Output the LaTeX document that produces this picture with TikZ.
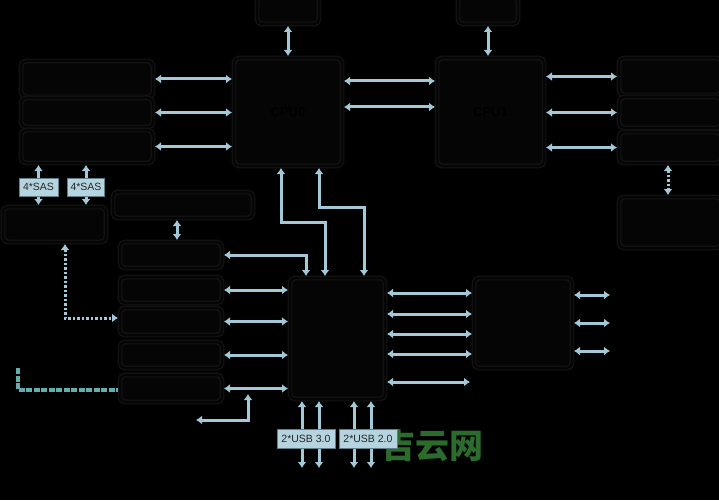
\documentclass[tikz,border=0pt]{standalone}
\usepackage{fontspec}
\setmainfont{Liberation Sans}
\newfontfamily\cjkfont{Noto Sans CJK SC}
\usetikzlibrary{arrows.meta,calc}
\definecolor{arrowblue}{HTML}{A3C8D8}
\definecolor{lblfill}{HTML}{B6D4DF}
\definecolor{lbldraw}{HTML}{5E7F8A}
\definecolor{boxline}{HTML}{141414}
\definecolor{boxfill}{HTML}{050505}
\definecolor{tealline}{HTML}{62AEAE}
\definecolor{wmgreen}{HTML}{2B6B2B}
\begin{document}
\begin{tikzpicture}[x=1pt,y=-1pt,
  blk/.style={draw=boxline, double=boxfill, fill=boxfill, line width=1.2pt, double distance=2.5pt,
    rounded corners=5pt, inner sep=0pt, outer sep=0pt, text=black, font=\bfseries\fontsize{13}{15}\selectfont},
  sz/.style 2 args={minimum width=#1pt, minimum height=#2pt},
  lbl/.style={draw=lbldraw, fill=lblfill, line width=0.8pt, inner sep=0pt, outer sep=0pt,
    text=black!85, font=\fontsize{10.5}{12}\selectfont},
  arr/.style={draw=arrowblue, line width=3pt,
    {Latex[length=6pt,width=9pt]}-{Latex[length=6pt,width=9pt]}, shorten <=2pt, shorten >=2pt},
  dotarr/.style={arr, dash pattern=on 2.5pt off 2pt},
  tealstyle/.style={draw=tealline, line width=4pt, dash pattern=on 6pt off 1.5pt, shorten >=2pt}]
\fill[black] (0,0) rectangle (719,500);
\useasboundingbox (0,0) rectangle (719,500);

% watermark
\node[font=\cjkfont\bfseries\fontsize{34}{36}\selectfont, text=wmgreen, inner sep=0pt] (wm) at (432,446) {吉云网};

% blocks
\node[blk,sz={62}{28}] (topL) at (288,10) {};
\node[blk,sz={60}{28}] (topR) at (488,10) {};
\node[blk,sz={108}{108}] (cpu0) at (288,112) {CPU0};
\node[blk,sz={107}{108}] (cpu1) at (490.5,112) {CPU1};
\node[blk,sz={132}{36}] (lb1) at (87,79) {};
\node[blk,sz={132}{29}] (lb2) at (87,112.5) {};
\node[blk,sz={132}{33}] (lb3) at (87,146.5) {};
\node[blk,sz={103}{37}] (rb1) at (670.5,76.5) {};
\node[blk,sz={103}{31}] (rb2) at (670.5,112.5) {};
\node[blk,sz={103}{31}] (rb3) at (670.5,147.5) {};
\node[blk,sz={103}{51}] (rb4) at (670.5,222.5) {};
\node[blk,sz={103}{35}] (sasbox) at (54.5,224.5) {};
\node[blk,sz={140}{26}] (midbox) at (183,205) {};
\node[blk,sz={102}{26}] (p1) at (171,255) {};
\node[blk,sz={102}{26}] (p2) at (171,290) {};
\node[blk,sz={102}{27}] (p3) at (171,321.5) {};
\node[blk,sz={102}{26}] (p4) at (171,355) {};
\node[blk,sz={102}{27}] (p5) at (171,388.5) {};
\node[blk,sz={95}{121}] (pch) at (337.5,338.5) {};
\node[blk,sz={98}{90}] (bmc) at (523,323) {};

% free-end coordinates
\coordinate (r1) at ([yshift=45.5pt]pch.east);
\coordinate (r2) at ([yshift=24.5pt]pch.east);
\coordinate (r3) at ([yshift=4.5pt]pch.east);
\coordinate (r4) at ([yshift=-15.5pt]pch.east);
\coordinate (r5) at ([yshift=-43.5pt]pch.east);
\coordinate (r5end) at (472,382);
\coordinate (m1) at ([yshift=28pt]bmc.east);
\coordinate (m2) at (bmc.east);
\coordinate (m3) at ([yshift=-28pt]bmc.east);
\coordinate (m1end) at (612,295);
\coordinate (m2end) at (612,323);
\coordinate (m3end) at (612,351);
\coordinate (bl1) at (248,392);
\coordinate (bl2) at (194,420);
\coordinate (tl) at (18,368);

% connectors
\draw[arr] (topL.south) -- (cpu0.north);
\draw[arr] (topR.south) -- (topR.south |- cpu1.north);
\draw[arr] ([yshift=31pt]cpu0.east) -- ([yshift=31pt]cpu1.west);
\draw[arr] ([yshift=5pt]cpu0.east) -- ([yshift=5pt]cpu1.west);
\draw[arr] (lb1.east) -- (lb1.east -| cpu0.west);
\draw[arr] (lb2.east) -- (lb2.east -| cpu0.west);
\draw[arr] (lb3.east) -- (lb3.east -| cpu0.west);
\draw[arr] (rb1.west -| cpu1.east) -- (rb1.west);
\draw[arr] (rb2.west -| cpu1.east) -- (rb2.west);
\draw[arr] (rb3.west -| cpu1.east) -- (rb3.west);
\draw[dotarr] ([xshift=-2.5pt]rb3.south) -- ([xshift=-2.5pt]rb4.north);
\draw[arr] (lb3.south -| 38.5,0) -- (sasbox.north -| 38.5,0);
\draw[arr] (lb3.south -| 86,0) -- (sasbox.north -| 86,0);
\draw[dotarr] ([xshift=10.5pt]sasbox.south) |- ([yshift=3.5pt]p3.west);
\draw[arr] ([xshift=-6pt]midbox.south) -- ([xshift=6pt]p1.north);
\draw[arr] (p1.east) -| ([xshift=-31.5pt]pch.north);
\draw[arr] (p2.east) -- (p2.east -| pch.west);
\draw[arr] (p3.east) -- (p3.east -| pch.west);
\draw[arr] (p4.east) -- (p4.east -| pch.west);
\draw[arr] (p5.east) -- (p5.east -| pch.west);
\draw[arr] ([xshift=-7pt]cpu0.south) -- ++(0,56) -| ([xshift=-12.5pt]pch.north);
\draw[arr] ([xshift=31pt]cpu0.south) -- ++(0,41) -| ([xshift=26.5pt]pch.north);
\draw[arr] (r1) -- (r1 -| bmc.west);
\draw[arr] (r2) -- (r2 -| bmc.west);
\draw[arr] (r3) -- (r3 -| bmc.west);
\draw[arr] (r4) -- (r4 -| bmc.west);
\draw[arr] (r5) -- (r5end);
\draw[arr] (m1) -- (m1end);
\draw[arr] (m2) -- (m2end);
\draw[arr] (m3) -- (m3end);
\draw[arr] (bl1) |- (bl2);
\draw[tealstyle] (tl) |- ([yshift=-1.5pt]p5.west);
\draw[arr] ([xshift=-35.5pt]pch.south) -- ++(0,71);
\draw[arr] ([xshift=-18.5pt]pch.south) -- ++(0,71);
\draw[arr] ([xshift=16.5pt]pch.south) -- ++(0,71);
\draw[arr] ([xshift=33.5pt]pch.south) -- ++(0,71);

% labels on top
\node[lbl,sz={39}{18}] (sas1) at (38.5,187) {4*SAS};
\node[lbl,sz={37}{18}] (sas2) at (86,187) {4*SAS};
\node[lbl,sz={58}{19}] (usb3) at (306,438.5) {2*USB 3.0};
\node[lbl,sz={58}{19}] (usb2) at (368,438.5) {2*USB 2.0};
\end{tikzpicture}
\end{document}
